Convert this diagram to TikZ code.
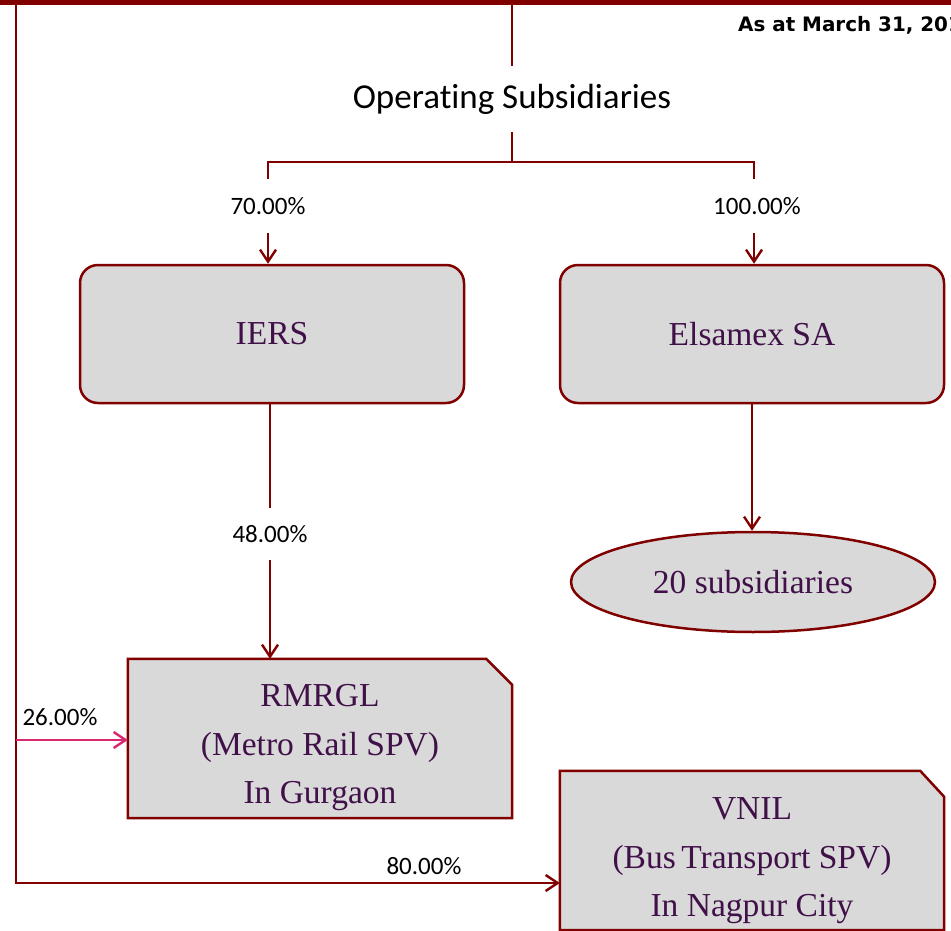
\documentclass[tikz,border=0pt]{standalone}
\usepackage{fontspec}
\setmainfont{Liberation Serif}
\newfontfamily\calibri{Carlito}[Ligatures=NoCommon]
\newfontfamily\datefont{DejaVu Sans}
\usetikzlibrary{arrows.meta,shapes.geometric}
\definecolor{dred}{RGB}{128,0,0}
\definecolor{boxfill}{RGB}{217,217,217}
\definecolor{txtp}{RGB}{64,16,72}
\definecolor{pinkc}{RGB}{218,40,112}
\begin{document}
\begin{tikzpicture}[x=1pt,y=-1pt,
  conn/.style={draw=dred,line width=2.4pt},
  arr/.style={conn,-{Straight Barb[length=12pt,width=16pt]}},
  pinkarr/.style={draw=pinkc,line width=2.4pt,-{Straight Barb[length=12pt,width=16pt]}},
  pct/.style={font=\calibri\fontsize{25}{29}\selectfont,text=black,inner sep=0pt},
  boxtxt/.style={font=\fontsize{33.5}{48.5}\selectfont,text=txtp,align=center},
  rbox/.style={draw=dred,line width=2.5pt,fill=boxfill,rounded corners=18pt,minimum width=384pt,minimum height=138pt,font=\fontsize{33.5}{48}\selectfont,text=txtp},
  notebox/.style={draw=dred,line width=2.5pt,fill=boxfill,line join=miter},
  shell/.style={minimum width=384pt,minimum height=159pt,inner sep=0pt}]
\useasboundingbox (0,0) rectangle (951,931);
\begin{scope}
\clip (0,0) rectangle (951,931);
% top bar and date
\coordinate (barL) at (0,2.5);
\coordinate (barR) at (951,2.5);
\draw[dred,line width=5pt] (barL) -- (barR);
\node[anchor=base west,font=\datefont\bfseries\fontsize{19.9}{24}\selectfont,inner sep=0pt] (date) at (738,32) {As at March 31, 2015};
\end{scope}
% Operating subsidiaries
\node[font=\calibri\fontsize{35}{42}\selectfont,minimum height=65pt,inner sep=0pt] (ops) at (512,99) {Operating Subsidiaries};
\coordinate (topc) at (512,5);
\coordinate (split) at (512,162);
\coordinate (lsplit) at (268,162);
\coordinate (rsplit) at (754,162);
% boxes
\node[rbox] (iers) at (272,334) {IERS};
\node[rbox] (elsa) at (752,334) {Elsamex SA};
\node[ellipse,draw=dred,line width=2.5pt,fill=boxfill,minimum width=364pt,minimum height=100pt,inner sep=0pt,font=\fontsize{33.5}{48}\selectfont,text=txtp] (subs) at (753,582) {20 subsidiaries};
% labels
\node[pct,minimum height=54pt] (p70) at (268,206) {70.00\%};
\node[pct,minimum height=54pt] (p100) at (754,206) {\hspace*{6pt}100.00\%};
\node[pct,minimum height=52pt] (p48) at (270,534) {48.00\%};
\node[pct] (p26) at (60,717) {26.00\%};
\node[pct] (p80) at (424,866) {80.00\%};
% note shapes
\node[shell] (rmrgl) at (320,738.5) {};
\node[shell] (vnil) at (752,850.5) {};
\draw[notebox] (rmrgl.north west) -- ([xshift=-26pt]rmrgl.north east) -- ([yshift=-26pt]rmrgl.north east) -- (rmrgl.south east) -- (rmrgl.south west) -- cycle;
\draw[notebox] (vnil.north west) -- ([xshift=-24pt]vnil.north east) -- ([yshift=-26pt]vnil.north east) -- (vnil.south east) -- (vnil.south west) -- cycle;
\node[boxtxt] (rmrgltxt) at (320,748) {RMRGL\\(Metro Rail SPV)\\In Gurgaon};
\node[boxtxt] (vniltxt) at (752,861) {VNIL\\(Bus\,Transport SPV)\\In Nagpur City};
% connectors
\draw[conn] (topc) -- (ops.north);
\draw[conn] (ops.south) -- (split);
\draw[conn,line cap=rect] (lsplit) -- (rsplit);
\draw[conn] (lsplit) -- (p70.north);
\draw[conn] (rsplit) -- (p100.north);
\draw[arr] (p70.south) -- (iers.north -| p70.south);
\draw[arr] (p100.south) -- (elsa.north -| p100.south);
\draw[conn] (iers.south -| p48.north) -- (p48.north);
\draw[arr] (p48.south) -- (rmrgl.north -| p48.south);
\draw[arr] (elsa.south) -- (subs.north -| elsa.south);
\coordinate (tl) at (16,0);
\coordinate (bl) at (16,883);
\coordinate (pk) at (16,740);
\draw[arr] (tl) -- (bl) -- (bl -| vnil.west);
\draw[pinkarr] (pk) -- (pk -| rmrgl.west);
\end{tikzpicture}
\end{document}
